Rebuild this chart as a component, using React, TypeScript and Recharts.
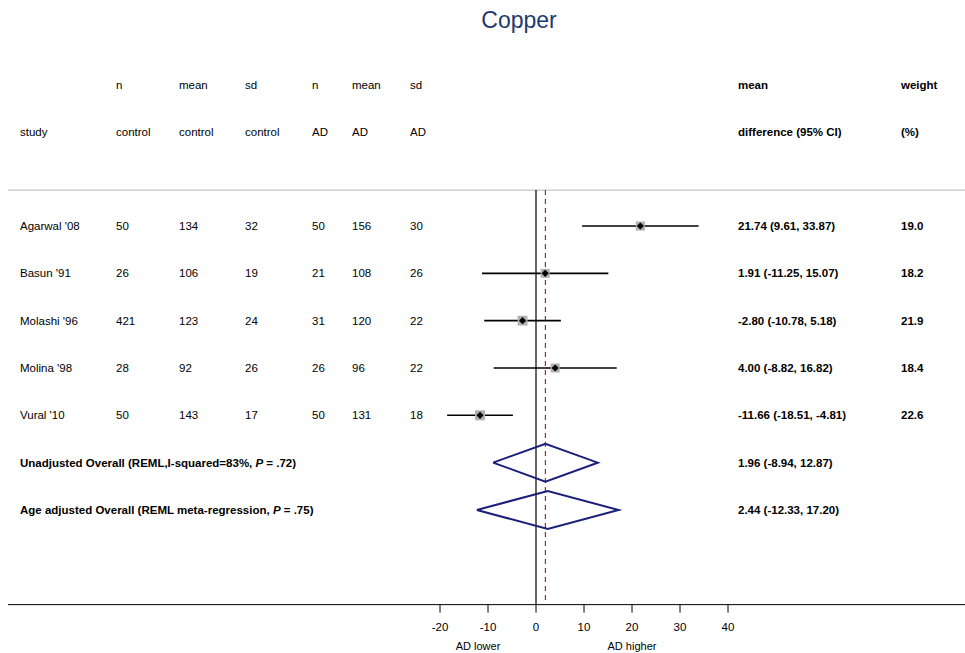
import React from "react";
import { ComposedChart, Scatter, XAxis, YAxis, ErrorBar, ReferenceLine } from "recharts";

// study rows
const studies = ["Agarwal '08", "Basun '91", "Molashi '96", "Molina '98", "Vural '10"];
const nControl = [50, 26, 421, 28, 50];
const meanControl = [134, 106, 123, 92, 143];
const sdControl = [32, 19, 24, 26, 17];
const nAD = [50, 21, 31, 26, 50];
const meanAD = [156, 108, 120, 96, 131];
const sdAD = [30, 26, 22, 22, 18];
const meanDiff = [21.74, 1.91, -2.8, 4.0, -11.66];
const ciLow = [9.61, -11.25, -10.78, -8.82, -18.51];
const ciHigh = [33.87, 15.07, 5.18, 16.82, -4.81];
const weights = ["19.0", "18.2", "21.9", "18.4", "22.6"];

// pooled estimates
const pooledLabels = [
  ["Unadjusted Overall (REML,I-squared=83%, ", ".72)"],
  ["Age adjusted Overall (REML meta-regression, ", ".75)"],
];
const pooledEst = [1.96, 2.44];
const pooledLow = [-8.94, -12.33];
const pooledHigh = [12.87, 17.2];

const xTicks = [-20, -10, 0, 10, 20, 30, 40];
const headerTop = ["", "n", "mean", "sd", "n", "mean", "sd"];
const headerBottom = ["study", "control", "control", "control", "AD", "AD", "AD"];

const W = 965;
const H = 653;
const ROW0 = 226;
const ROW_H = 47.33;
const rowY = (i: number) => ROW0 + ROW_H * i;
const Y_MIN = -4;
const Y_MAX = 8;
const RULE_Y = -0.76;
const FONT = "'Liberation Sans', Arial, Helvetica, sans-serif";
const NAVY = "#1a1f7a";

const colX = [20, 116, 179, 245, 312, 352, 410];
const diffX = 738;
const weightX = 901;

const studyData = meanDiff.map((m, i) => ({
  x: m,
  y: i,
  err: [m - ciLow[i], ciHigh[i] - m],
  w: parseFloat(weights[i]),
}));

const diamonds = pooledEst.map((e, i) => {
  const r = studies.length + i;
  return [
    { x: pooledLow[i], y: r },
    { x: e, y: r - 0.4 },
    { x: pooledHigh[i], y: r },
    { x: e, y: r + 0.4 },
    { x: pooledLow[i], y: r },
  ];
});

const StudyMarker = (props: any) => {
  const { cx, cy, payload } = props;
  if (cx == null || cy == null) return <g />;
  const s = 2.1 * Math.sqrt(payload.w);
  const d = 3.6;
  return (
    <g>
      <rect x={cx - s / 2} y={cy - s / 2} width={s} height={s} fill="#b0b0b0" />
      <polygon points={`${cx - d},${cy} ${cx},${cy - d} ${cx + d},${cy} ${cx},${cy + d}`} fill="#000" />
    </g>
  );
};

const Nothing = () => <g />;

export default function App() {
  const txt = { fontFamily: FONT, fontSize: 11.5, fill: "#000" } as const;
  const bold = { ...txt, fontWeight: 700 } as const;
  return (
    <div style={{ position: "absolute", left: 0, top: 0, width: W, height: H, background: "#fff" }}>
      <ComposedChart
        width={W}
        height={H}
        margin={{ top: rowY(Y_MIN), right: 0, bottom: 0, left: 8 }}
      >
        <XAxis
          type="number"
          dataKey="x"
          domain={[-110, 89.375]}
          ticks={xTicks}
          allowDataOverflow
          height={H - rowY(Y_MAX)}
          tickSize={8}
          tickMargin={10}
          stroke="#000"
          tick={{ fontFamily: FONT, fontSize: 11.5, fill: "#000" }}
        />
        <YAxis type="number" dataKey="y" domain={[Y_MIN, Y_MAX]} reversed hide allowDataOverflow />
        <ReferenceLine y={RULE_Y} stroke="#c4c4c4" strokeWidth={1.2} />
        <ReferenceLine
          segment={[
            { x: 0, y: RULE_Y },
            { x: 0, y: Y_MAX },
          ]}
          stroke="#000"
          strokeWidth={1.2}
        />
        <ReferenceLine
          segment={[
            { x: pooledEst[0], y: RULE_Y },
            { x: pooledEst[0], y: Y_MAX },
          ]}
          stroke="#a52a2a"
          strokeDasharray="5 4"
          strokeWidth={1.2}
        />
        {diamonds.map((d, i) => (
          <Scatter
            key={i}
            data={d}
            line={{ stroke: NAVY, strokeWidth: 2, fill: "none" }}
            lineJointType="linear"
            shape={Nothing}
            isAnimationActive={false}
          />
        ))}
        <Scatter data={studyData} shape={StudyMarker} isAnimationActive={false}>
          <ErrorBar dataKey="err" direction="x" width={0} stroke="#000" strokeWidth={1.6} />
        </Scatter>
      </ComposedChart>
      <svg width={W} height={H} style={{ position: "absolute", left: 0, top: 0, pointerEvents: "none" }}>
        <text x={519} y={20} textAnchor="middle" dominantBaseline="central" fontFamily={FONT} fontSize={23} fill="#1e3a70">
          Copper
        </text>
        {headerTop.map((h, c) => (
          <text key={"ht" + c} x={colX[c]} y={85} dominantBaseline="central" {...txt}>
            {h}
          </text>
        ))}
        {headerBottom.map((h, c) => (
          <text key={"hb" + c} x={colX[c]} y={132} dominantBaseline="central" {...txt}>
            {h}
          </text>
        ))}
        <text x={diffX} y={85} dominantBaseline="central" {...bold}>mean</text>
        <text x={diffX} y={132} dominantBaseline="central" {...bold}>difference (95% CI)</text>
        <text x={weightX} y={85} dominantBaseline="central" {...bold}>weight</text>
        <text x={weightX} y={132} dominantBaseline="central" {...bold}>(%)</text>
        {studies.map((s, i) => {
          const cells = [s, nControl[i], meanControl[i], sdControl[i], nAD[i], meanAD[i], sdAD[i]];
          return (
            <g key={s}>
              {cells.map((v, c) => (
                <text key={c} x={colX[c]} y={rowY(i)} dominantBaseline="central" {...txt}>
                  {v}
                </text>
              ))}
              <text x={diffX} y={rowY(i)} dominantBaseline="central" {...bold}>
                {`${meanDiff[i].toFixed(2)} (${ciLow[i].toFixed(2)}, ${ciHigh[i].toFixed(2)})`}
              </text>
              <text x={weightX} y={rowY(i)} dominantBaseline="central" {...bold}>
                {weights[i]}
              </text>
            </g>
          );
        })}
        {pooledLabels.map((p, i) => {
          const r = studies.length + i;
          return (
            <g key={"p" + i}>
              <text x={colX[0]} y={rowY(r)} dominantBaseline="central" {...bold}>
                {p[0]}
                <tspan fontStyle="italic">P</tspan>
                {" = " + p[1]}
              </text>
              <text x={diffX} y={rowY(r)} dominantBaseline="central" {...bold}>
                {`${pooledEst[i].toFixed(2)} (${pooledLow[i].toFixed(2)}, ${pooledHigh[i].toFixed(2)})`}
              </text>
            </g>
          );
        })}
        <text x={478} y={646} textAnchor="middle" dominantBaseline="central" {...txt} fontSize={11}>
          AD lower
        </text>
        <text x={632} y={646} textAnchor="middle" dominantBaseline="central" {...txt} fontSize={11}>
          AD higher
        </text>
      </svg>
    </div>
  );
}
